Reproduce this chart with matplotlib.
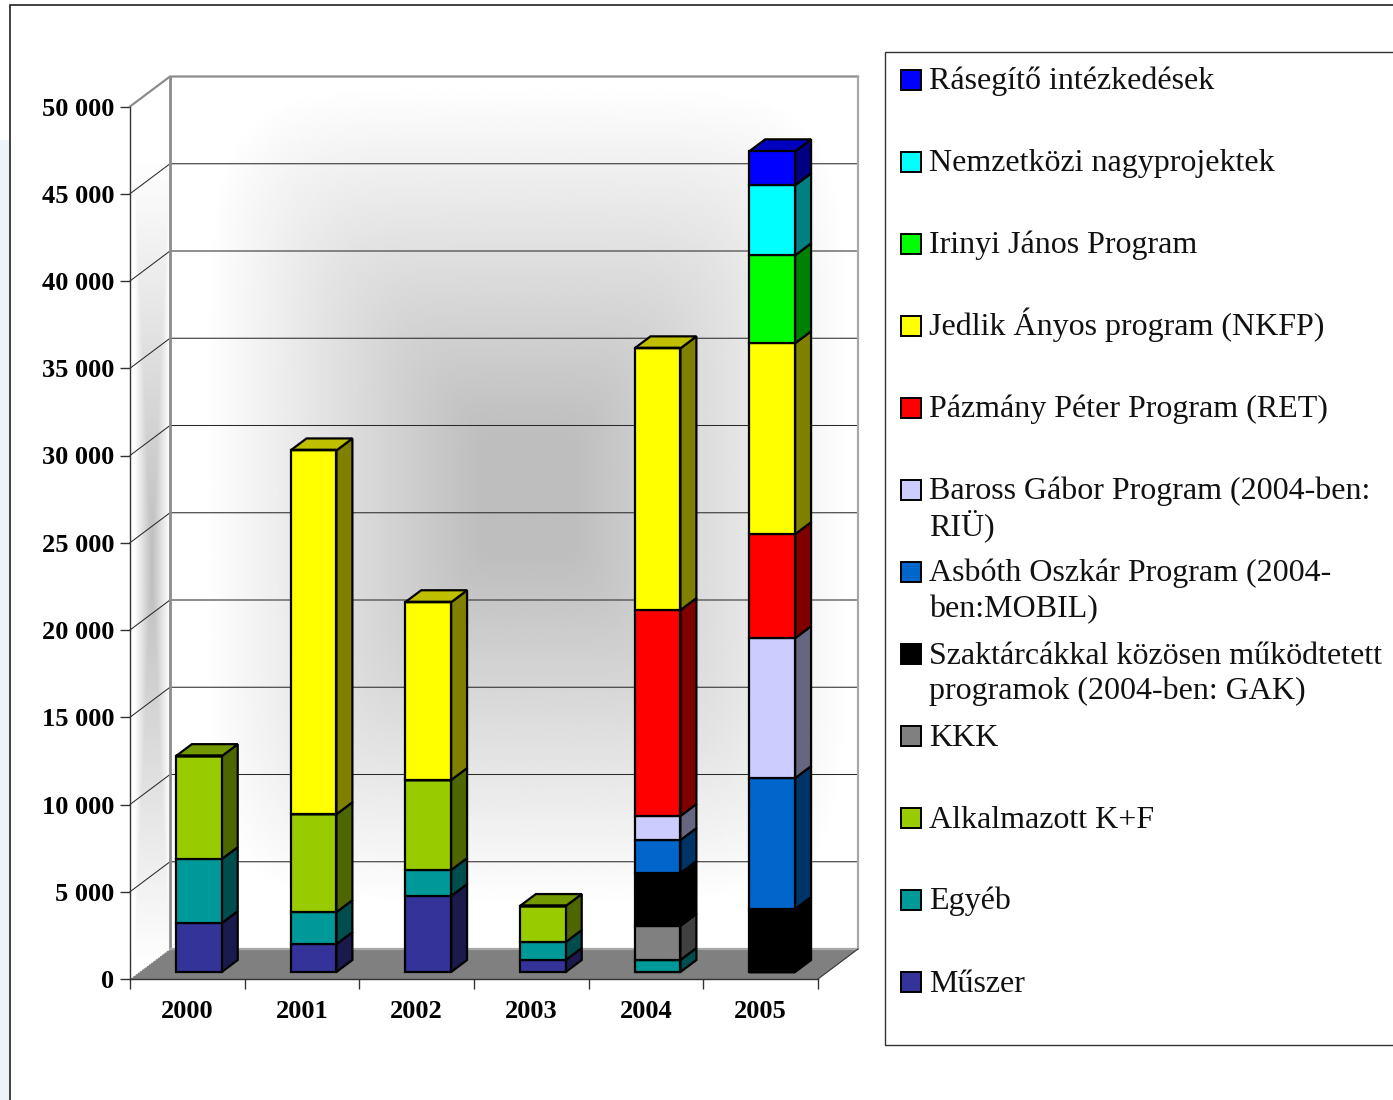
import numpy as np
import matplotlib
matplotlib.use('Agg')
import matplotlib.pyplot as plt
import matplotlib.ticker as mticker
from matplotlib.patches import Polygon, Rectangle

plt.rcParams['font.family'] = ['Liberation Serif', 'DejaVu Serif']

W, H = 1393, 1100

years = ['2000', '2001', '2002', '2003', '2004', '2005']
y_ticks = [0, 5000, 10000, 15000, 20000, 25000, 30000, 35000, 40000, 45000, 50000]
y_labels = ['0', '5 000', '10 000', '15 000', '20 000', '25 000',
            '30 000', '35 000', '40 000', '45 000', '50 000']

# oszlopok alulrol felfele
muszer = [2800, 1600, 4350, 690, 0, 0]
egyeb = [3670, 1830, 1490, 1030, 690, 0]
alkalmazott = [5900, 5610, 5160, 2060, 0, 0]
kkk = [0, 0, 0, 0, 1950, 0]
szaktarca = [0, 0, 0, 0, 3030, 3610]
asboth = [0, 0, 0, 0, 1890, 7500]
baross = [0, 0, 0, 0, 1380, 8020]
pazmany = [0, 0, 0, 0, 11800, 5960]
jedlik = [0, 20850, 10190, 0, 15000, 10940]
irinyi = [0, 0, 0, 0, 0, 5040]
nemzetkozi = [0, 0, 0, 0, 0, 4010]
rasegito = [0, 0, 0, 0, 0, 1950]

series = [muszer, egyeb, alkalmazott, kkk, szaktarca, asboth,
          baross, pazmany, jedlik, irinyi, nemzetkozi, rasegito]
colors = ['#333399', '#009999', '#99CC00', '#808080', '#000000', '#0066CC',
          '#CCCCFF', '#FF0000', '#FFFF00', '#00FF00', '#00FFFF', '#0000FF']
names = ['Műszer', 'Egyéb', 'Alkalmazott K+F', 'KKK',
         'Szaktárcákkal közösen működtetett\nprogramok (2004-ben: GAK)',
         'Asbóth Oszkár Program (2004-\nben:MOBIL)',
         'Baross Gábor Program (2004-ben:\nRIÜ)',
         'Pázmány Péter Program (RET)', 'Jedlik Ányos program (NKFP)',
         'Irinyi János Program', 'Nemzetközi nagyprojektek',
         'Rásegítő intézkedések']


def darker(c, k):
    return tuple(np.array(matplotlib.colors.to_rgb(c))*k)


fig = plt.figure(figsize=(W/100, H/100), dpi=100)

# keret es halvany hatter a szelen
fig.patches.append(Rectangle((0, 0), 10/W, 1-140/H, transform=fig.transFigure, fc='#eef3fa', ec='none'))
fig.patches.append(Rectangle((10/W, -0.1), 1.1, (H-5)/H+0.1, transform=fig.transFigure,
                             fc='white', ec='#222222', lw=1.2))

ax = fig.add_axes([130/W, 1-979/H, 688/W, 872.5/H])
ax.set_zorder(2)
ax.set_xlim(0, 6)
ax.set_ylim(0, 50000)
ax.patch.set_visible(False)
for s in ax.spines.values():
    s.set_visible(False)

# melyseg adategysegben
DX = 40/(688/6)
DY = 30/(872.5/50000)
BAR_DX = 16/(688/6)
BAR_DY = 12/(872.5/50000)
BASE_X = 0.10
BASE_Y = 400
BAR_W = 0.40

# hatso fal szurke atmenettel
n = 300
u, v = np.meshgrid(np.linspace(-1, 1, n), np.linspace(-1, 1, n))
t = (np.abs(u-0.04)**6+np.abs(v+0.04)**6)**(1/6)
back = 0.745+0.255*np.clip((t-0.14)/0.8, 0, 1)
ax.imshow(back, cmap='gray', vmin=0, vmax=1, extent=(DX, 6+DX, DY, 50000+DY),
          aspect='auto', zorder=0, clip_on=False, interpolation='bilinear')

# bal fal
u, v = np.meshgrid(np.linspace(-1, 1, 60), np.linspace(-1, 1, 300))
t = np.maximum(np.abs(u-0.1), np.abs(v-0.08))
side = np.clip(0.74+0.26*t/0.9, 0, 1)
im = ax.imshow(side, cmap='gray', vmin=0, vmax=1, extent=(0, DX, 0, 50000+DY),
               aspect='auto', zorder=0, clip_on=True, interpolation='bilinear')
im.set_clip_path(Polygon([(0, 0), (DX, DY), (DX, 50000+DY), (0, 50000)], transform=ax.transData))
ax.set_xlim(0, 6)
ax.set_ylim(0, 50000)

# padlo
ax.add_patch(Polygon([(0, 0), (DX, DY), (6+DX, DY), (6, 0)], fc='#808080', ec='none',
                     zorder=1, clip_on=False))
ax.plot([0, DX], [0, DY], color='white', lw=0.8, ls=(0, (1, 1.5)), zorder=1.5, clip_on=False)

# racsvonalak
for val in y_ticks[1:-1]:
    ax.plot([0, DX, 6+DX], [val, val+DY, val+DY], color='#2a2a2a', lw=0.75, zorder=2, clip_on=False)
ax.plot([0, DX, 6+DX], [50000, 50000+DY, 50000+DY], color='#8c8c8c', lw=1.6,
        zorder=2, clip_on=False, solid_joinstyle='miter')
ax.plot([DX, DX], [50000+DY, DY], color='#8c8c8c', lw=2, zorder=2, clip_on=False)
ax.plot([DX, 6+DX, 6+DX], [DY, DY, 50000+DY], color='#a8a8a8', lw=1.6, zorder=2, clip_on=False)

# oszlopok
cum = np.full(len(years), float(BASE_Y))
x = np.arange(len(years))+0.5+BASE_X
for vals, col in zip(series, colors):
    vals = np.array(vals, dtype=float)
    ax.bar(x, vals, BAR_W, bottom=cum, color=col, edgecolor='black', linewidth=1.6, zorder=4,
           clip_on=False)
    for xi, b, h in zip(x, cum, vals):
        if h == 0:
            continue
        r = xi+BAR_W/2
        ax.add_patch(Polygon([(r, b), (r+BAR_DX, b+BAR_DY), (r+BAR_DX, b+h+BAR_DY), (r, b+h)],
                             fc=darker(col, 0.5), ec='black', lw=1.6, zorder=3, clip_on=False,
                             joinstyle='miter'))
    cum = cum+vals

# tetejek: a legfelso nem nulla sorozat szine
for i, xi in enumerate(x):
    top_col = [c for s, c in zip(series, colors) if s[i] > 0][-1]
    l = xi-BAR_W/2
    r = xi+BAR_W/2
    t0 = cum[i]
    ax.add_patch(Polygon([(l, t0), (r, t0), (r+BAR_DX, t0+BAR_DY), (l+BAR_DX, t0+BAR_DY)],
                         fc=darker(top_col, 0.75), ec='black', lw=1.6, zorder=3.5, clip_on=False,
                         joinstyle='miter'))

# tengelyek
ax.spines['left'].set_visible(True)
ax.spines['bottom'].set_visible(True)
ax.spines['left'].set_color('#333333')
ax.spines['bottom'].set_color('#333333')
ax.spines['left'].set_linewidth(1.0)
ax.spines['bottom'].set_linewidth(1.0)
ax.plot([6, 6+DX], [0, DY], color='#333333', lw=0.8, zorder=2, clip_on=False)
ax.yaxis.set_major_locator(mticker.FixedLocator(y_ticks))
ax.set_yticklabels(y_labels, fontsize=19, fontweight='bold')
ax.xaxis.set_major_locator(mticker.FixedLocator(range(7)))
ax.xaxis.set_minor_locator(mticker.FixedLocator(np.arange(6)+0.5))
ax.set_xticklabels([])
ax.set_xticklabels(years, minor=True, fontsize=19, fontweight='bold')
ax.tick_params(axis='x', which='major', length=7.5, width=1, color='#333333')
ax.tick_params(axis='x', which='minor', length=0, pad=15)
ax.tick_params(axis='y', length=7.5, width=1, color='#333333', pad=4)

# jelmagyarazat
fig.patches.append(Rectangle((885/W, 1-1045/H), 520/W, 993/H, transform=fig.transFigure,
                             fc='white', ec='#333333', lw=1.0))
row_y = 982
for name, col in zip(names, colors):
    fig.patches.append(Rectangle((901/W, 1-(row_y+10)/H), 20/W, 20/H, transform=fig.transFigure,
                                 fc=col, ec='black', lw=1.4, zorder=5))
    for j, line in enumerate(name.split('\n')):
        fig.text(929/W, 1-(row_y+9.5+36*j)/H, line, fontsize=23, va='baseline', ha='left',
                 color='#111111')
    row_y -= 82

fig.savefig('out.png', dpi=100)
